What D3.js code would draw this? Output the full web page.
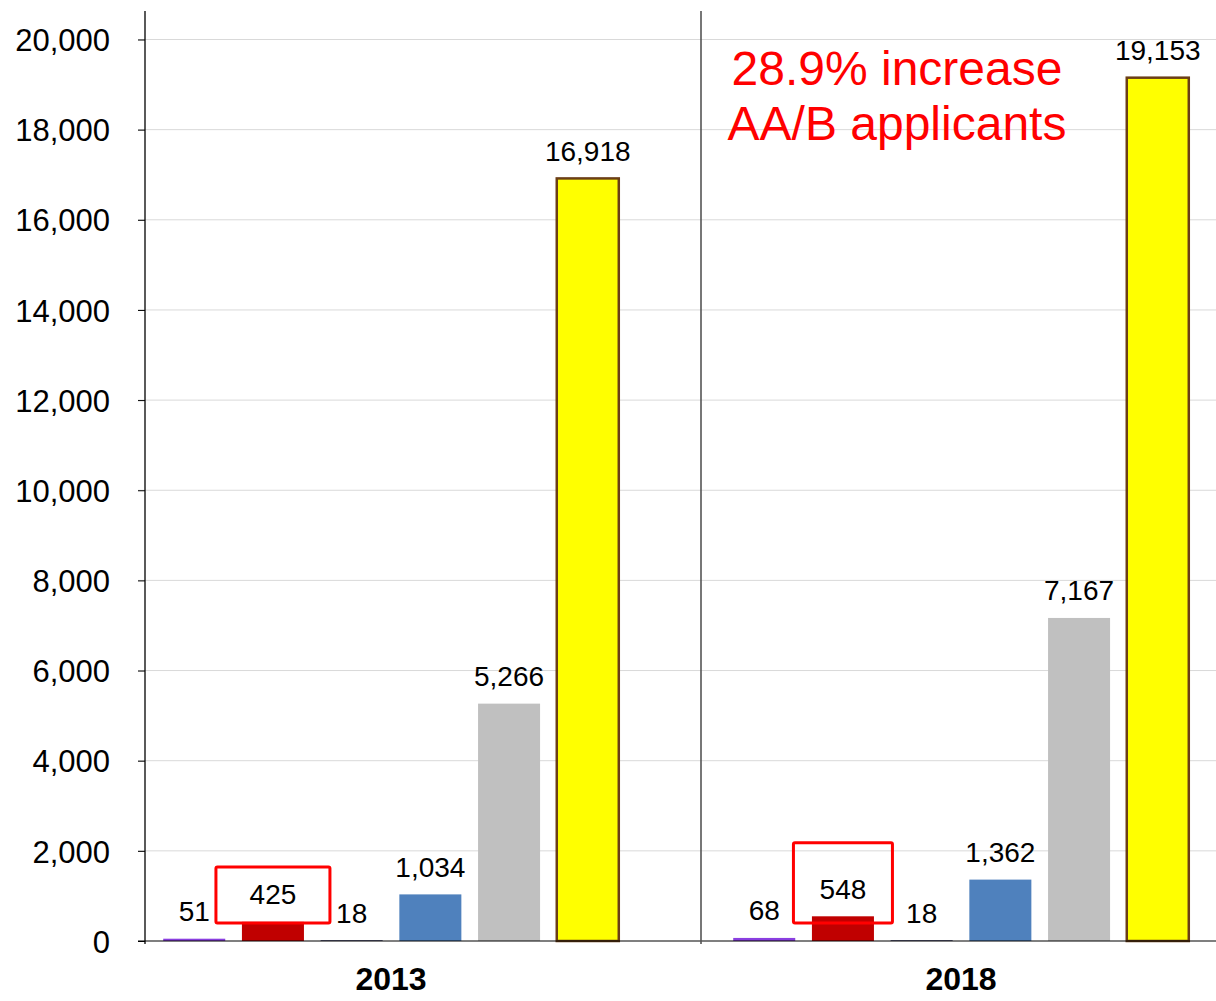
<!DOCTYPE html>
<html>
<head>
<meta charset="utf-8">
<script src="https://cdn.jsdelivr.net/npm/d3@7"></script>
<style>
html,body{margin:0;padding:0;background:#fff;}
text{font-family:Arial,"Liberation Sans",sans-serif;}
</style>
</head>
<body>
<svg id="chart" width="1216" height="1001"></svg>
<script>
const years = ["2013", "2018"];
const series = ["s1", "s2", "s3", "s4", "s5", "s6"];
const values2013 = [51, 425, 18, 1034, 5266, 16918];
const values2018 = [68, 548, 18, 1362, 7167, 19153];
const colors = ["#8A3FE0", "#C00000", "#3F4066", "#4F81BD", "#C0C0C0", "#FFFF00"];
const yTicks = [0, 2000, 4000, 6000, 8000, 10000, 12000, 14000, 16000, 18000, 20000];
const annotationLines = ["28.9% increase", "AA/B applicants"];
const highlightTopValues = [1640, 2180]; // red box tops (value units)

const data = years.map((yr, i) => ({
  year: yr,
  values: (i === 0 ? values2013 : values2018).map((v, j) => ({key: series[j], value: v, idx: j}))
}));

const svg = d3.select("#chart");
const fmt = d3.format(",");

const y = d3.scaleLinear().domain([0, 20000]).range([941, 39.5]);
const x0 = d3.scaleBand().domain(years).range([106, 1246]);
const x1 = d3.scaleBand().domain(series).range([0, x0.bandwidth()]).paddingInner(0.212).paddingOuter(0.727);

const axisX = 145, rightX = 1216, sepX = 701, topY = 11;

// gridlines
svg.append("g").selectAll("line").data(yTicks.filter(d => d > 0)).join("line")
  .attr("x1", axisX - 7).attr("x2", rightX)
  .attr("y1", d => y(d)).attr("y2", d => y(d))
  .attr("stroke", "#D9D9D9").attr("stroke-width", 1);

// y axis labels via d3 axis
const yAxis = d3.axisLeft(y).tickValues(yTicks).tickFormat(fmt).tickSize(7).tickPadding(28);
const ga = svg.append("g").attr("transform", `translate(${axisX},0)`).call(yAxis);
ga.select(".domain").remove();
ga.selectAll(".tick line").attr("stroke", "#000").attr("stroke-width", 1);
ga.selectAll(".tick text").attr("font-size", 31).attr("fill", "#000")
  .attr("font-family", 'Arial,"Liberation Sans",sans-serif').attr("dy", "0.36em");

// bars
const groups = svg.append("g").selectAll("g").data(data).join("g")
  .attr("transform", d => `translate(${x0(d.year)},0)`);

groups.selectAll("rect").data(d => d.values).join("rect")
  .attr("x", d => x1(d.key)).attr("width", x1.bandwidth())
  .attr("y", d => y(d.value)).attr("height", d => y(0) - y(d.value))
  .attr("fill", d => colors[d.idx])
  .attr("stroke", d => d.idx === 5 ? "#6B3E16" : "none")
  .attr("stroke-width", d => d.idx === 5 ? 2.5 : 0);

groups.selectAll("text.val").data(d => d.values).join("text").attr("class", "val")
  .attr("x", d => x1(d.key) + x1.bandwidth() / 2)
  .attr("y", d => y(d.value) - 17.5)
  .attr("text-anchor", "middle").attr("font-size", 28).attr("fill", "#000")
  .text(d => fmt(d.value));

// red highlight boxes around the red bar labels
groups.each(function(d, i) {
  const g = d3.select(this);
  const cx = x1("s2") + x1.bandwidth() / 2;
  const w = i === 0 ? 114 : 99;
  const top = y(highlightTopValues[i]);
  const bottom = 923;
  g.append("rect").attr("x", cx - w / 2).attr("y", top).attr("width", w).attr("height", bottom - top)
    .attr("fill", "none").attr("stroke", "#FF0000").attr("stroke-width", 3).attr("rx", 1.5);
});

// baseline
svg.append("line").attr("x1", axisX - 7).attr("x2", rightX).attr("y1", y(0)).attr("y2", y(0))
  .attr("stroke", "#000").attr("stroke-width", 1.2);

// y axis line and separator
svg.append("line").attr("x1", axisX).attr("x2", axisX).attr("y1", topY).attr("y2", y(0) + 3)
  .attr("stroke", "#000").attr("stroke-width", 1.3);
svg.append("line").attr("x1", sepX).attr("x2", sepX).attr("y1", topY).attr("y2", y(0) + 3)
  .attr("stroke", "#555").attr("stroke-width", 1.6);

// category labels
svg.append("g").selectAll("text").data(years).join("text")
  .attr("x", d => x0(d) + x0.bandwidth() / 2).attr("y", 990)
  .attr("text-anchor", "middle").attr("font-size", 32).attr("font-weight", "bold").attr("fill", "#000")
  .text(d => d);

// annotation
svg.append("g").selectAll("text").data(annotationLines).join("text")
  .attr("x", 897).attr("y", (d, i) => 85 + i * 55)
  .attr("text-anchor", "middle").attr("font-size", 48).attr("fill", "#FF0000")
  .text(d => d);
</script>
</body>
</html>
